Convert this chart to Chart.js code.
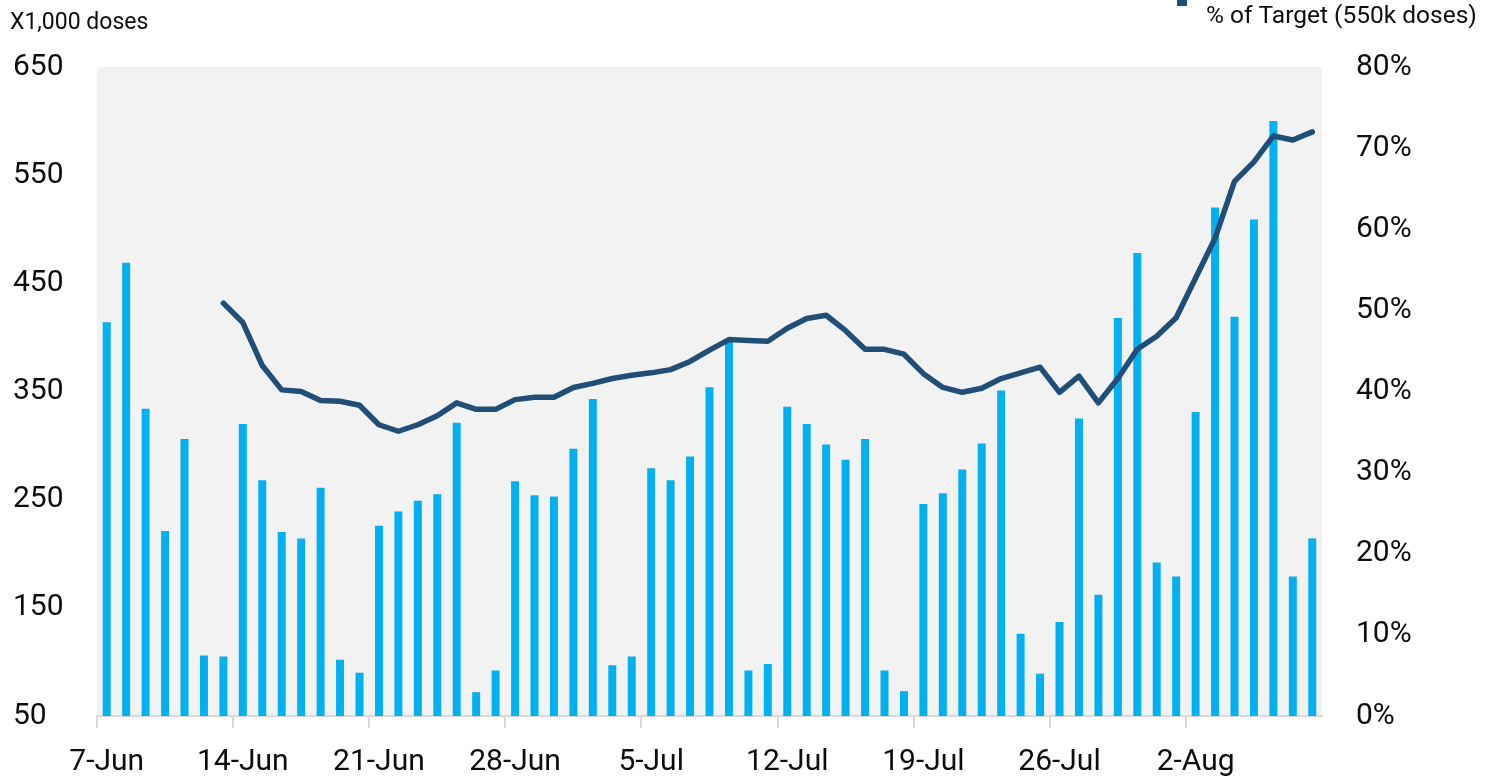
<!DOCTYPE html>
<html>
<head>
<meta charset="utf-8">
<script src="https://cdn.jsdelivr.net/npm/chart.js@4.4.1/dist/chart.umd.min.js"></script>
<style>
  body { margin: 0; background: #fff; }
  #wrap { width: 1485px; height: 778px; }
</style>
</head>
<body>
<div id="wrap"><canvas id="dosesChart" width="1485" height="778"></canvas></div>
<script>
// daily categories, 7-Jun to 8-Aug
const days = [
  '7-Jun','8-Jun','9-Jun','10-Jun','11-Jun','12-Jun','13-Jun',
  '14-Jun','15-Jun','16-Jun','17-Jun','18-Jun','19-Jun','20-Jun',
  '21-Jun','22-Jun','23-Jun','24-Jun','25-Jun','26-Jun','27-Jun',
  '28-Jun','29-Jun','30-Jun','1-Jul','2-Jul','3-Jul','4-Jul',
  '5-Jul','6-Jul','7-Jul','8-Jul','9-Jul','10-Jul','11-Jul',
  '12-Jul','13-Jul','14-Jul','15-Jul','16-Jul','17-Jul','18-Jul',
  '19-Jul','20-Jul','21-Jul','22-Jul','23-Jul','24-Jul','25-Jul',
  '26-Jul','27-Jul','28-Jul','29-Jul','30-Jul','31-Jul','1-Aug',
  '2-Aug','3-Aug','4-Aug','5-Aug','6-Aug','7-Aug','8-Aug'
];

// doses per day, x1,000
const doses = [
  414, 469, 334, 221, 306, 106, 105,
  320, 268, 220, 214, 261, 102, 90,
  226, 239, 249, 255, 321, 72, 92,
  267, 254, 253, 297, 343, 97, 105,
  279, 268, 290, 354, 396, 92, 98,
  336, 320, 301, 287, 306, 92, 73,
  246, 256, 278, 302, 351, 126, 89,
  137, 325, 162, 418, 478, 192, 179,
  331, 520, 419, 509, 600, 179, 214
];

// % of target (550k doses)
const pctTarget = [
  null, null, null, null, null, null, 50.9,
  48.5, 43.2, 40.2, 40.0, 38.9, 38.8, 38.3,
  35.9, 35.1, 35.9, 37.0, 38.6, 37.8, 37.8,
  39.0, 39.3, 39.3, 40.5, 41.0, 41.6, 42.0,
  42.3, 42.7, 43.7, 45.1, 46.4, 46.3, 46.2,
  47.8, 49.0, 49.4, 47.5, 45.2, 45.2, 44.6,
  42.2, 40.5, 39.9, 40.4, 41.6, 42.3, 43.0,
  39.9, 41.9, 38.6, 41.6, 45.2, 46.8, 49.1,
  54.0, 58.9, 65.9, 68.3, 71.5, 71.0, 72.0
];

const dosesTicks = [50, 650, 100];
const pctTicks = [0, 80, 10];

const barBlue = '#00b0f0';
const navy = '#1f4e79';
const txt = '#0d0d0d';
const font = 'Roboto, "Liberation Sans", sans-serif';

// grey plot background + header text
const extras = {
  id: 'extras',
  beforeDraw(chart) {
    const { ctx, chartArea: a } = chart;
    ctx.save();
    ctx.fillStyle = '#f2f2f2';
    ctx.fillRect(a.left, a.top, a.right - a.left, a.bottom - a.top);
    ctx.restore();
  },
  afterDraw(chart) {
    const ctx = chart.ctx;
    ctx.save();
    ctx.fillStyle = txt;
    ctx.textBaseline = 'alphabetic';
    ctx.font = '23px ' + font;
    ctx.fillText('X1,000 doses', 10, 29);
    ctx.fillStyle = navy;
    ctx.fillRect(1177, -4, 10, 10);
    ctx.fillStyle = txt;
    ctx.font = '24.5px ' + font;
    ctx.fillText('% of Target (550k doses)', 1206, 23);
    ctx.restore();
  }
};

new Chart(document.getElementById('dosesChart'), {
  data: {
    labels: days,
    datasets: [{
      type: 'line',
      label: '% of Target (550k doses)',
      data: pctTarget,
      yAxisID: 'y1',
      borderColor: navy,
      borderWidth: 5.5,
      borderCapStyle: 'round',
      borderJoinStyle: 'round',
      pointRadius: 0,
      tension: 0,
      order: 0
    }, {
      type: 'bar',
      label: 'Doses',
      data: doses,
      yAxisID: 'y',
      backgroundColor: barBlue,
      barPercentage: 0.41,
      categoryPercentage: 1,
      order: 1
    }]
  },
  options: {
    responsive: false,
    animation: false,
    layout: { padding: { top: 67, left: 13, right: 0, bottom: 0 } },
    plugins: { legend: { display: false }, tooltip: { enabled: false } },
    scales: {
      x: {
        offset: true,
        afterFit: (s) => { s.height = 62; },
        grid: {
          offset: true,
          drawOnChartArea: false,
          tickLength: 12,
          lineWidth: 2,
          color: (c) => (c.index % 7 === 0 ? '#d9d9d9' : 'rgba(0,0,0,0)')
        },
        border: { display: true, color: '#d9d9d9', width: 2 },
        ticks: {
          autoSkip: false,
          maxRotation: 0,
          padding: 16,
          color: txt,
          font: { family: font, size: 30 },
          callback: (v, i) => (i % 7 === 0 ? days[i] : '')
        }
      },
      y: {
        position: 'left',
        min: dosesTicks[0],
        max: dosesTicks[1],
        afterFit: (s) => { s.width = 84; },
        grid: { display: false, drawTicks: false },
        border: { display: false },
        ticks: {
          stepSize: dosesTicks[2],
          crossAlign: 'far',
          color: txt,
          font: { family: font, size: 30 }
        }
      },
      y1: {
        position: 'right',
        min: pctTicks[0],
        max: pctTicks[1],
        afterFit: (s) => { s.width = 163; },
        grid: { display: false, drawTicks: false },
        border: { display: false },
        ticks: {
          stepSize: pctTicks[2],
          padding: 34,
          color: txt,
          font: { family: font, size: 30 },
          callback: (v) => v + '%'
        }
      }
    }
  },
  plugins: [extras]
});
</script>
</body>
</html>
